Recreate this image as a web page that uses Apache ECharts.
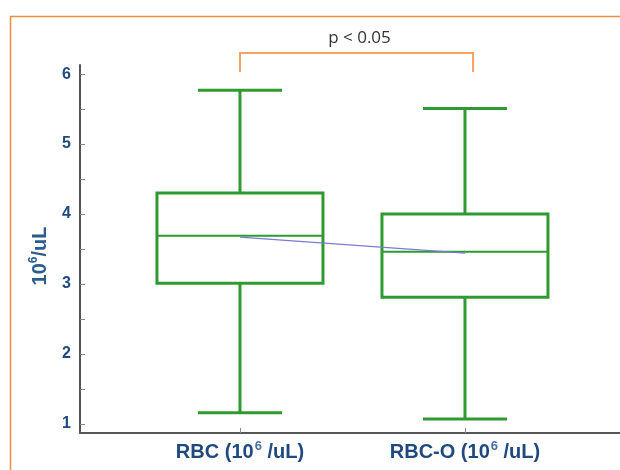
<!DOCTYPE html>
<html>
<head>
<meta charset="utf-8">
<script src="https://cdn.jsdelivr.net/npm/echarts@6/dist/echarts.min.js"></script>
<style>html,body{margin:0;padding:0;background:#fff}#c{width:620px;height:470px}</style>
</head>
<body>
<div id="c"></div>
<script>
const categories = ['RBC', 'RBC-O'];
const unitBase = '10';
const unitExp = '6';
const unitTail = ' /uL';
const whiskerLow = [1.16, 1.07];
const q1 = [3.01, 2.81];
const median = [3.69, 3.46];
const q3 = [4.30, 4.00];
const whiskerHigh = [5.77, 5.51];
const meanValues = [3.67, 3.44];
const yTickLabels = [1, 2, 3, 4, 5, 6];
const yMinorTicks = [1.5, 2.5, 3.5, 4.5, 5.5];
const pText = 'p < 0.05';

const GREEN = '#2f9a2f';
const FONT = '"Liberation Sans", Arial, sans-serif';
const chart = echarts.init(document.getElementById('c'), null, {renderer: 'canvas'});

const boxData = categories.map((c, i) => [i, whiskerLow[i], q1[i], median[i], q3[i], whiskerHigh[i]]);

function renderBox(params, api) {
  const i = api.value(0);
  const lo = api.coord([i, api.value(1)]);
  const b1 = api.coord([i, api.value(2)]);
  const md = api.coord([i, api.value(3)]);
  const b3 = api.coord([i, api.value(4)]);
  const hi = api.coord([i, api.value(5)]);
  const cx = lo[0];
  const bw = 166, cw = 84;
  const st = {stroke: GREEN, lineWidth: 3, fill: null};
  return {
    type: 'group',
    children: [
      {type: 'line', shape: {x1: cx, y1: hi[1], x2: cx, y2: b3[1]}, style: st},
      {type: 'line', shape: {x1: cx, y1: b1[1], x2: cx, y2: lo[1]}, style: st},
      {type: 'line', shape: {x1: cx - cw / 2, y1: hi[1], x2: cx + cw / 2, y2: hi[1]}, style: st},
      {type: 'line', shape: {x1: cx - cw / 2, y1: lo[1], x2: cx + cw / 2, y2: lo[1]}, style: st},
      {type: 'rect', shape: {x: cx - bw / 2, y: b3[1], width: bw, height: b1[1] - b3[1]}, style: {stroke: GREEN, lineWidth: 3, fill: 'none'}},
      {type: 'line', shape: {x1: cx - bw / 2, y1: md[1], x2: cx + bw / 2, y2: md[1]}, style: {stroke: GREEN, lineWidth: 2}}
    ]
  };
}

function renderBracket(params, api) {
  const left = api.coord([0, 6.03]);
  const right = api.coord([1.036, 6.03]);
  const top = api.coord([0, 6.30]);
  const txt = api.coord([0.518, 6.51]);
  const st = {stroke: '#f4a266', lineWidth: 2, fill: null};
  return {
    type: 'group',
    children: [
      {type: 'polyline', shape: {points: [[left[0], left[1]], [left[0], top[1]], [right[0], top[1]], [right[0], right[1]]]}, style: st},
      {type: 'text', style: {x: txt[0] + 3, y: txt[1], text: pText, fill: '#333', font: '17px "Open Sans", "Noto Sans", sans-serif', align: 'center', verticalAlign: 'middle'}}
    ]
  };
}

const richLabel = {
  a: {color: '#1e4a80', fontWeight: 'bold', fontSize: 20, fontFamily: FONT, lineHeight: 24},
  s: {color: '#4a6fa0', fontWeight: 'bold', fontSize: 13, fontFamily: FONT, verticalAlign: 'top', padding: [0, 0, 0, 1]}
};

const option = {
  animation: false,
  backgroundColor: '#fff',
  graphic: [{
    type: 'rect', left: 8, top: 14, silent: true,
    shape: {x: 0, y: 0, width: 700, height: 600},
    style: {fill: 'none', stroke: '#f08a3c', lineWidth: 1.5}
  }],
  grid: {left: 80, right: 0, top: 65, bottom: 37, containLabel: false},
  xAxis: {
    type: 'value', min: -0.711, max: 1.689,
    splitLine: {show: false},
    axisLine: {show: true, onZero: false, lineStyle: {color: '#555', width: 2}},
    axisTick: {show: true, inside: true, length: 5, customValues: categories.map((c, i) => i), lineStyle: {color: '#888', width: 1}},
    axisLabel: {
      customValues: categories.map((c, i) => i),
      formatter: v => '{a|' + categories[Math.round(v)] + ' (' + unitBase + '}{s|' + unitExp + '}{a|' + unitTail + ')}',
      margin: 7, rich: richLabel
    }
  },
  yAxis: {
    type: 'value', min: 0.87, max: 6.13,
    name: '{a|' + unitBase + '}{s|' + unitExp + '}{a|/uL}', nameLocation: 'middle', nameGap: 28, nameRotate: 90,
    nameTextStyle: {
      padding: [0, 14, 0, 0],
      rich: {
        a: {color: '#2a5d8f', fontWeight: 'bold', fontSize: 20, fontFamily: FONT, lineHeight: 24},
        s: {color: '#2a5d8f', fontWeight: 'bold', fontSize: 12, fontFamily: FONT, verticalAlign: 'top'}
      }
    },
    splitLine: {show: false},
    axisLine: {show: true, onZero: false, lineStyle: {color: '#555', width: 2}},
    axisTick: {show: true, inside: true, length: 5, customValues: yTickLabels.concat(yMinorTicks), lineStyle: {color: '#888', width: 1}},
    axisLabel: {
      customValues: yTickLabels,
      margin: 9, color: '#1e4a80', fontWeight: 'bold', fontSize: 16, fontFamily: FONT
    }
  },
  series: [
    {type: 'custom', renderItem: renderBox, data: boxData, z: 2, encode: {x: 0, y: [1, 2, 3, 4, 5]}},
    {type: 'line', data: categories.map((c, i) => [i, meanValues[i]]), symbol: 'none', z: 3,
     lineStyle: {color: '#7a7ad6', width: 1.2}},
    {type: 'custom', renderItem: renderBracket, data: [[0]], clip: false, z: 4, silent: true}
  ]
};
chart.setOption(option);
</script>
</body>
</html>
